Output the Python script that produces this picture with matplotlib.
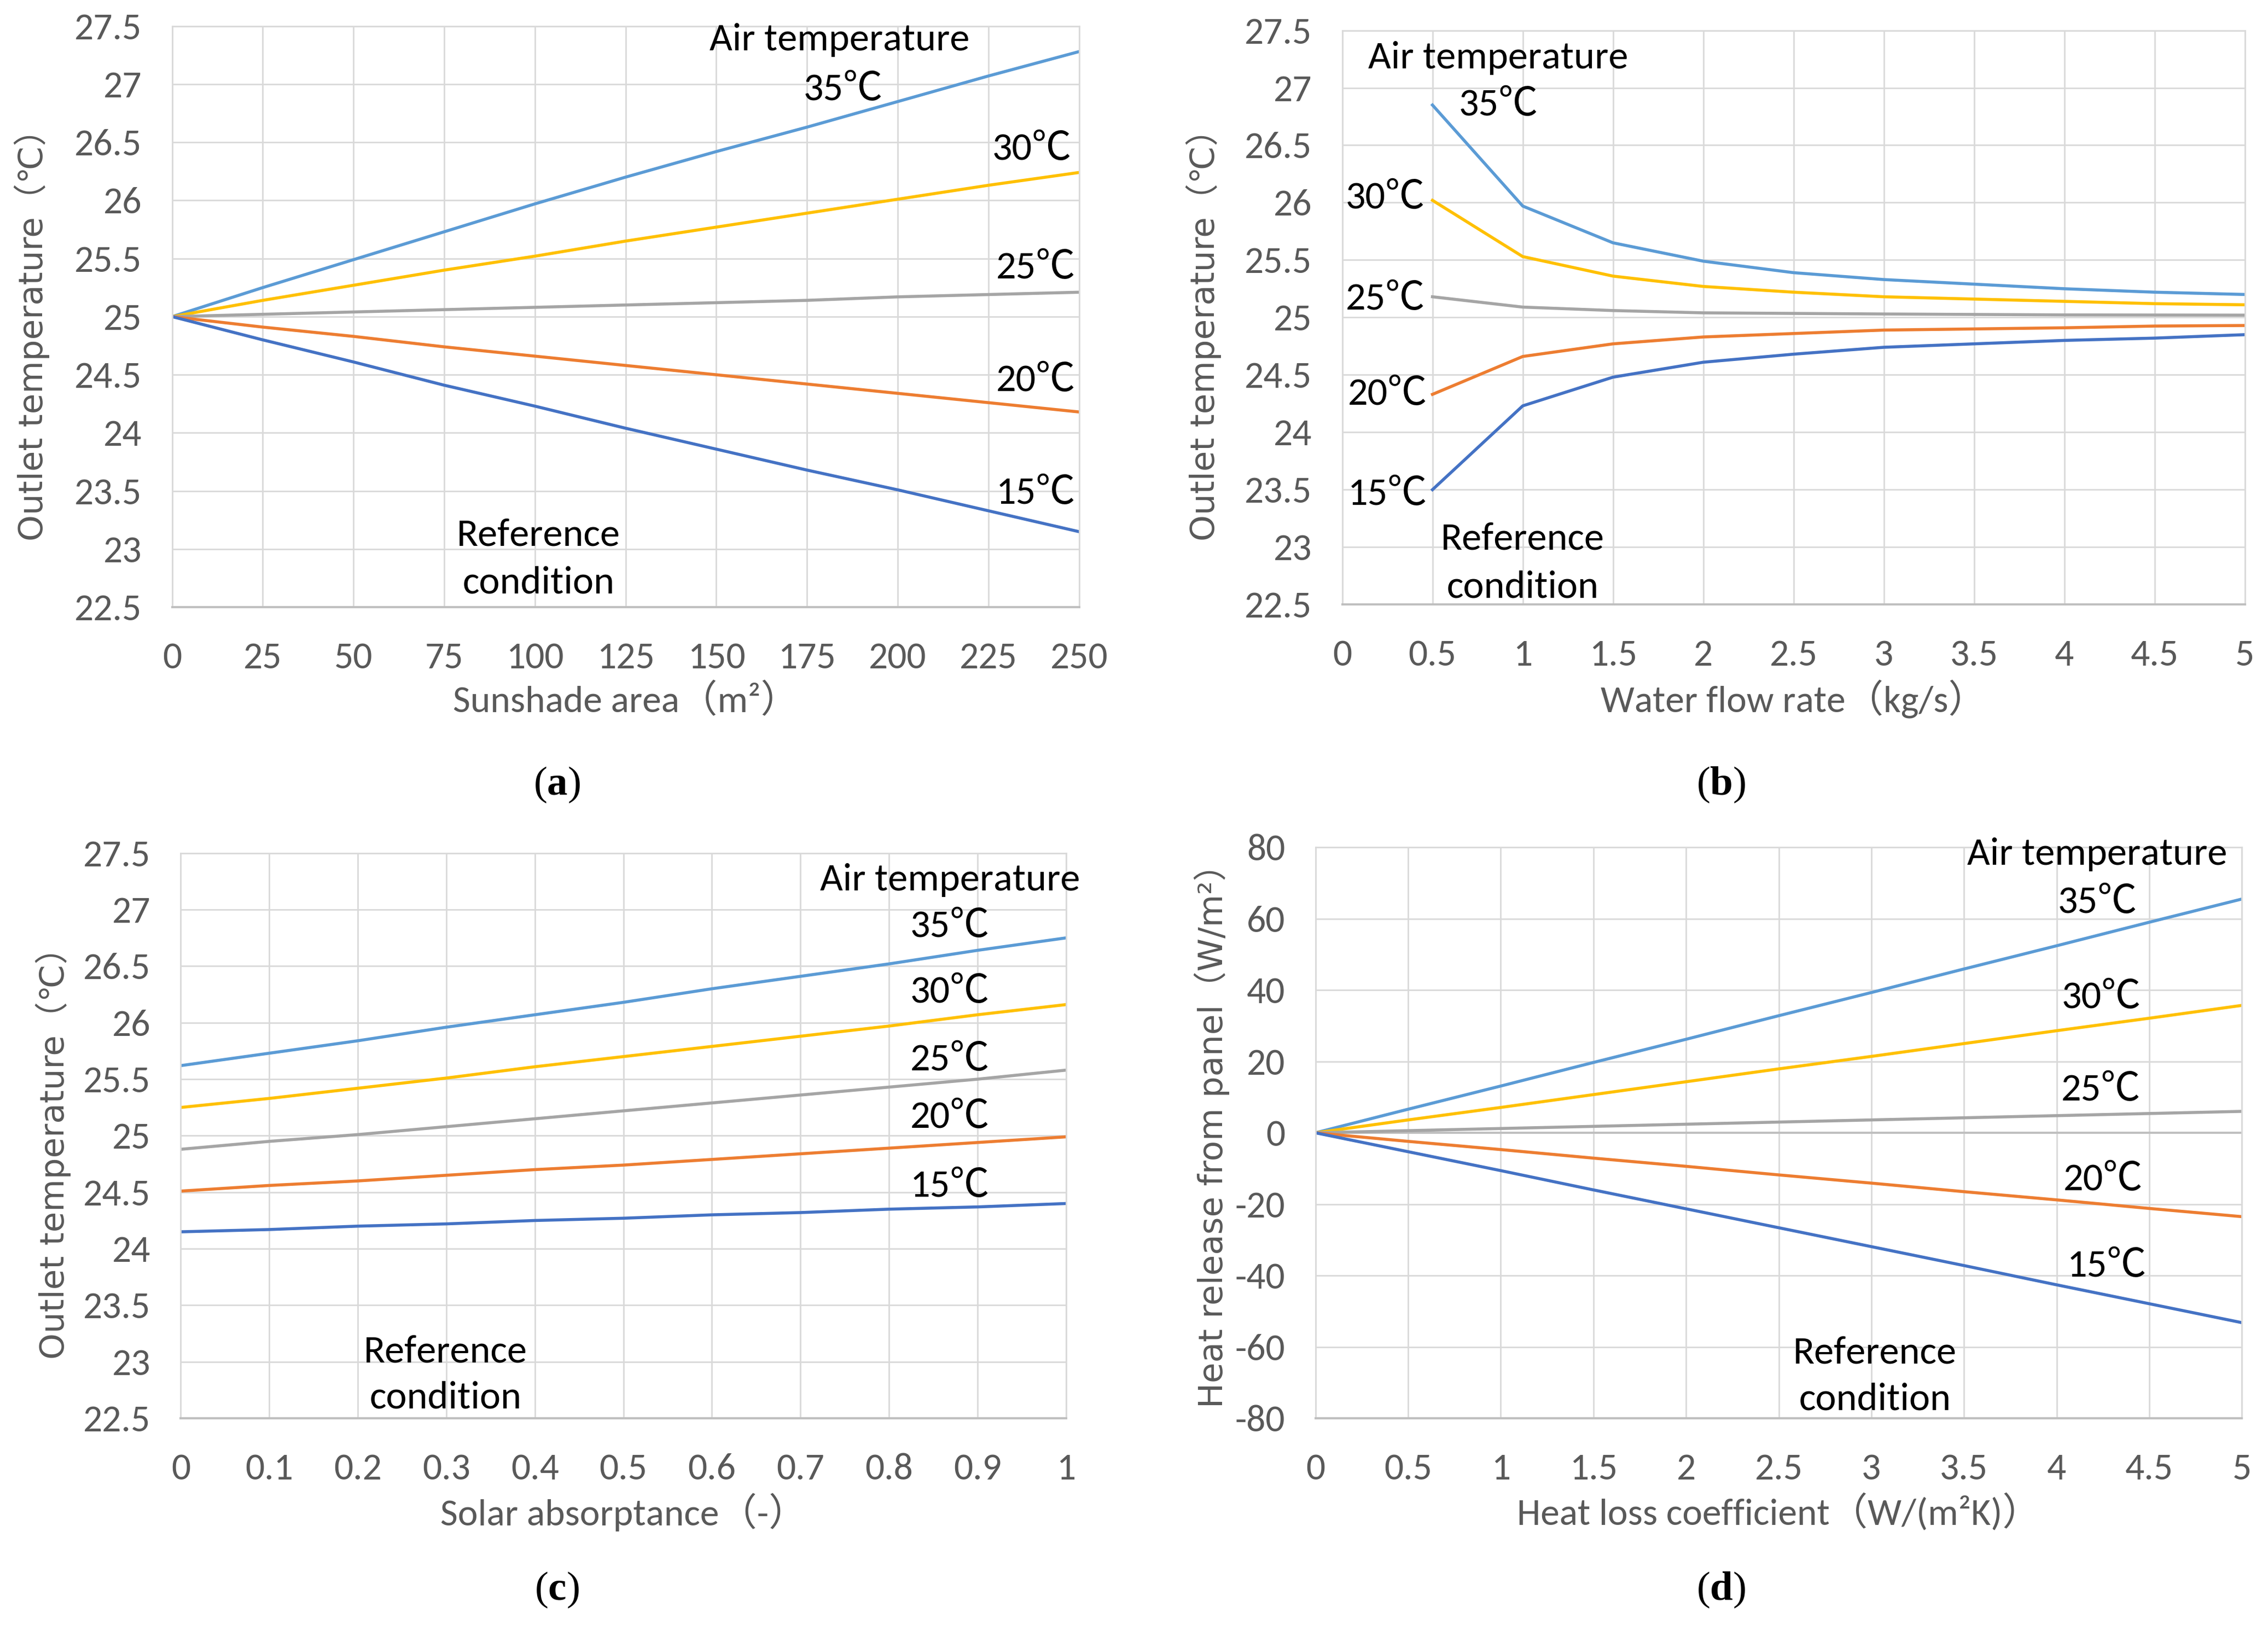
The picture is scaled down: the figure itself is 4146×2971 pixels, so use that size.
import matplotlib
matplotlib.use("Agg")
import matplotlib.pyplot as plt

# ---------------- data ----------------
temps = ["35℃", "30℃", "25℃", "20℃", "15℃"]
colors = ["#5B9BD5", "#FFC000", "#A5A5A5", "#ED7D31", "#4472C4"]

# (a) sunshade area
area = [0, 25, 50, 75, 100, 125, 150, 175, 200, 225, 250]
a_35 = [25.00, 25.25, 25.49, 25.73, 25.97, 26.20, 26.42, 26.63, 26.85, 27.07, 27.28]
a_30 = [25.00, 25.14, 25.27, 25.40, 25.52, 25.65, 25.77, 25.89, 26.01, 26.13, 26.24]
a_25 = [25.00, 25.02, 25.04, 25.06, 25.08, 25.10, 25.12, 25.14, 25.17, 25.19, 25.21]
a_20 = [25.00, 24.91, 24.83, 24.74, 24.66, 24.58, 24.50, 24.42, 24.34, 24.26, 24.18]
a_15 = [25.00, 24.80, 24.61, 24.41, 24.23, 24.04, 23.86, 23.68, 23.51, 23.33, 23.15]

# (b) water flow rate
flow = [0.5, 1.0, 1.5, 2.0, 2.5, 3.0, 3.5, 4.0, 4.5, 5.0]
b_35 = [26.85, 25.97, 25.65, 25.49, 25.39, 25.33, 25.29, 25.25, 25.22, 25.20]
b_30 = [26.02, 25.53, 25.36, 25.27, 25.22, 25.18, 25.16, 25.14, 25.12, 25.11]
b_25 = [25.18, 25.09, 25.06, 25.04, 25.035, 25.03, 25.026, 25.022, 25.021, 25.02]
b_20 = [24.33, 24.66, 24.77, 24.83, 24.86, 24.89, 24.90, 24.91, 24.925, 24.93]
b_15 = [23.50, 24.23, 24.48, 24.61, 24.68, 24.74, 24.77, 24.80, 24.82, 24.85]

# (c) solar absorptance
absorb = [0, 0.1, 0.2, 0.3, 0.4, 0.5, 0.6, 0.7, 0.8, 0.9, 1.0]
c_35 = [25.62, 25.73, 25.84, 25.96, 26.07, 26.18, 26.30, 26.41, 26.52, 26.64, 26.75]
c_30 = [25.25, 25.33, 25.42, 25.51, 25.61, 25.70, 25.79, 25.88, 25.97, 26.07, 26.16]
c_25 = [24.88, 24.95, 25.01, 25.08, 25.15, 25.22, 25.29, 25.36, 25.43, 25.50, 25.58]
c_20 = [24.51, 24.56, 24.60, 24.65, 24.70, 24.74, 24.79, 24.84, 24.89, 24.94, 24.99]
c_15 = [24.15, 24.17, 24.20, 24.22, 24.25, 24.27, 24.30, 24.32, 24.35, 24.37, 24.40]

# (d) heat loss coefficient
hloss = [0, 0.5, 1.0, 1.5, 2.0, 2.5, 3.0, 3.5, 4.0, 4.5, 5.0]
d_35 = [0, 6.6, 13.1, 19.7, 26.2, 32.8, 39.3, 45.9, 52.4, 59.0, 65.5]
d_30 = [0, 3.6, 7.1, 10.7, 14.3, 17.9, 21.4, 25.0, 28.6, 32.1, 35.7]
d_25 = [0, 0.6, 1.2, 1.8, 2.4, 3.0, 3.6, 4.2, 4.8, 5.4, 6.0]
d_20 = [0, -2.4, -4.7, -7.1, -9.4, -11.8, -14.1, -16.5, -18.8, -21.2, -23.5]
d_15 = [0, -5.3, -10.6, -16.0, -21.3, -26.6, -31.9, -37.2, -42.6, -47.9, -53.2]

a_ticks = [0, 25, 50, 75, 100, 125, 150, 175, 200, 225, 250]
b_ticks = [0, 0.5, 1, 1.5, 2, 2.5, 3, 3.5, 4, 4.5, 5]
c_ticks = [0, 0.1, 0.2, 0.3, 0.4, 0.5, 0.6, 0.7, 0.8, 0.9, 1]
d_ticks = [0, 0.5, 1, 1.5, 2, 2.5, 3, 3.5, 4, 4.5, 5]
t_yticks = [22.5, 23, 23.5, 24, 24.5, 25, 25.5, 26, 26.5, 27, 27.5]
d_yticks = [-80, -60, -40, -20, 0, 20, 40, 60, 80]

# ---------------- style ----------------
plt.rcParams["mathtext.fontset"] = "custom"
plt.rcParams["mathtext.rm"] = "Liberation Serif"
plt.rcParams["mathtext.bf"] = "Liberation Serif:bold"

NARROW = ["Carlito", "Noto Sans CJK SC", "DejaVu Sans"]
WIDE = ["DejaVu Sans", "Noto Sans CJK SC"]
GRAY = "#595959"
GRID = "#D9D9D9"
TICK_FS = 25
XL_FS = 25
ANN_FS = 26
LW = 2.0

fig = plt.figure(figsize=(20.73, 14.855), dpi=200)

def fmt(v):
    return "%g" % v

def setup(ax, xlim, xticks, ylim, yticks, xlabel, zero_line=None):
    ax.set_xlim(*xlim)
    ax.set_ylim(*ylim)
    ax.set_xticks(xticks)
    ax.set_yticks(yticks)
    ax.set_xticklabels([fmt(v) for v in xticks])
    ax.set_yticklabels([fmt(v) for v in yticks])
    for lab in ax.get_xticklabels() + ax.get_yticklabels():
        lab.set_fontfamily(NARROW)
        lab.set_fontsize(TICK_FS)
        lab.set_color(GRAY)
    ax.tick_params(axis="x", length=0, pad=23)
    ax.tick_params(axis="y", length=0, pad=20)
    ax.grid(True, color=GRID, linewidth=1.0)
    ax.set_axisbelow(True)
    for s in ax.spines.values():
        s.set_color(GRID)
        s.set_linewidth(1.0)
    ax.spines["bottom"].set_color("#BFBFBF")
    ax.spines["bottom"].set_linewidth(1.4)
    if zero_line is not None:
        ax.axhline(zero_line, color="#BFBFBF", linewidth=1.4, zorder=1.5)
    ax.set_xlabel(xlabel, fontfamily=NARROW, fontsize=XL_FS, color=GRAY, labelpad=5)

def ann(ax, x, y, s):
    ax.text(x, y, s, fontfamily=NARROW, fontsize=ANN_FS, color="black",
            ha="center", va="center")

# (a)
axa = fig.add_axes([0.0759, 0.6263, 0.4758 - 0.0759, 0.984 - 0.6263])
for ys, c in zip([a_35, a_30, a_25, a_20, a_15], colors):
    axa.plot(area, ys, color=c, linewidth=LW)
setup(axa, (0, 250), a_ticks, (22.5, 27.5), t_yticks, "Sunshade area（m²）")
ann(axa, 184, 27.38, "Air temperature")
ann(axa, 185, 26.95, temps[0])
ann(axa, 237, 26.44, temps[1])
ann(axa, 238, 25.42, temps[2])
ann(axa, 238, 24.45, temps[3])
ann(axa, 238, 23.48, temps[4])
ann(axa, 101, 23.12, "Reference")
ann(axa, 101, 22.71, "condition")

# (b)
axb = fig.add_axes([0.5918, 0.628, 0.9898 - 0.5918, 0.9813 - 0.628])
for ys, c in zip([b_35, b_30, b_25, b_20, b_15], colors):
    axb.plot(flow, ys, color=c, linewidth=LW)
setup(axb, (0, 5), b_ticks, (22.5, 27.5), t_yticks, "Water flow rate（kg/s）")
ann(axb, 0.865, 27.26, "Air temperature")
ann(axb, 0.865, 26.85, temps[0])
ann(axb, 0.24, 26.04, temps[1])
ann(axb, 0.24, 25.16, temps[2])
ann(axb, 0.25, 24.33, temps[3])
ann(axb, 0.25, 23.46, temps[4])
ann(axb, 1.0, 23.07, "Reference")
ann(axb, 1.0, 22.65, "condition")

# (c)
axc = fig.add_axes([0.0797, 0.1272, 0.470 - 0.0797, 0.475 - 0.1272])
for ys, c in zip([c_35, c_30, c_25, c_20, c_15], colors):
    axc.plot(absorb, ys, color=c, linewidth=LW)
setup(axc, (0, 1), c_ticks, (22.5, 27.5), t_yticks, "Solar absorptance（-）")
ann(axc, 0.869, 27.26, "Air temperature")
ann(axc, 0.869, 26.85, temps[0])
ann(axc, 0.869, 26.27, temps[1])
ann(axc, 0.869, 25.67, temps[2])
ann(axc, 0.869, 25.16, temps[3])
ann(axc, 0.869, 24.55, temps[4])
ann(axc, 0.299, 23.09, "Reference")
ann(axc, 0.299, 22.68, "condition")

# (d)
axd = fig.add_axes([0.580, 0.1272, 0.9885 - 0.580, 0.4786 - 0.1272])
for ys, c in zip([d_35, d_30, d_25, d_20, d_15], colors):
    axd.plot(hloss, ys, color=c, linewidth=LW)
setup(axd, (0, 5), d_ticks, (-80, 80), d_yticks, "Heat loss coefficient（W/(m²K)）", zero_line=0)
ann(axd, 4.22, 78, "Air temperature")
ann(axd, 4.22, 64.6, temps[0])
ann(axd, 4.24, 37.9, temps[1])
ann(axd, 4.24, 12.0, temps[2])
ann(axd, 4.25, -13.1, temps[3])
ann(axd, 4.27, -37.4, temps[4])
ann(axd, 3.02, -61.7, "Reference")
ann(axd, 3.02, -74.7, "condition")

# y-axis labels
YL_FS = 22
fig.text(22 / 1568, 1 - 226 / 1124, "Outlet temperature（℃）", rotation=90,
         ha="center", va="center", fontfamily=WIDE, fontsize=YL_FS, color=GRAY)
fig.text(832 / 1568, 1 - 226 / 1124, "Outlet temperature（℃）", rotation=90,
         ha="center", va="center", fontfamily=WIDE, fontsize=YL_FS, color=GRAY)
fig.text(37 / 1568, 1 - 792 / 1124, "Outlet temperature（℃）", rotation=90,
         ha="center", va="center", fontfamily=WIDE, fontsize=YL_FS, color=GRAY)
fig.text(838 / 1568, 1 - 780 / 1124, "Heat release from panel（W/m²）", rotation=90,
         ha="center", va="center", fontfamily=WIDE, fontsize=YL_FS, color=GRAY)

# panel labels
for x, y, s in [(385, 543, "a"), (1190, 543, "b"), (385, 1100, "c"), (1190, 1100, "d")]:
    fig.text(x / 1568, 1 - y / 1124, r"($\mathbf{%s}$)" % s, ha="center", va="center",
             fontfamily=["Liberation Serif", "DejaVu Serif"],
             fontsize=27, color="black")

fig.savefig("out.png", dpi=200, facecolor="white")
